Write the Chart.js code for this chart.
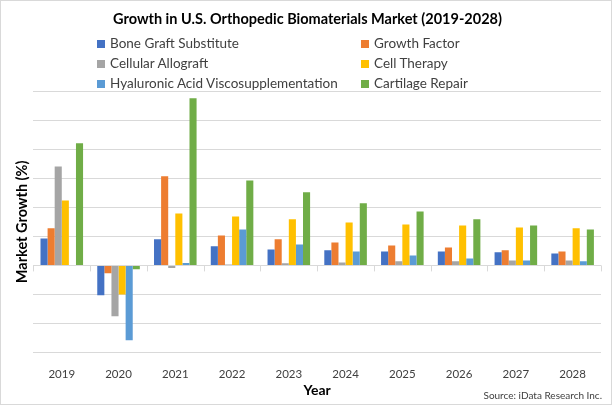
<!DOCTYPE html>
<html>
<head>
<meta charset="utf-8">
<script src="https://cdn.jsdelivr.net/npm/chart.js@4.4.0/dist/chart.umd.min.js"></script>
<style>
  body { margin: 0; background: #fff; }
  #wrap { position: relative; width: 612px; height: 405px; font-family: Lato, "Liberation Sans", sans-serif; }
  #frame { position: absolute; left: 0; top: 0; width: 612px; height: 405px; box-sizing: border-box; border: 1px solid #d9d9d9; pointer-events: none; }
  #legend { position: absolute; left: 97px; top: 33px; width: 440px; }
  .item { position: absolute; font-size: 13.5px; color: #404040; white-space: nowrap; line-height: 20px; }
  .item span.box { display: inline-block; width: 8px; height: 8px; margin-right: 5px; vertical-align: 0px; }
  #source { position: absolute; right: 10px; top: 389px; font-size: 10px; color: #404040; }
</style>
</head>
<body>
<div id="wrap">
  <canvas id="myChart"></canvas>
  <div id="legend"></div>
  <div id="source">Source: iData Research Inc.</div>
  <div id="frame"></div>
</div>
<script>
const years = ['2019', '2020', '2021', '2022', '2023', '2024', '2025', '2026', '2027', '2028'];

const boneGraft = [9.3, -10.3, 9.0, 6.6, 5.5, 5.2, 4.8, 4.8, 4.5, 4.1];
const growthFactor = [12.8, -2.7, 30.7, 10.3, 9.0, 7.9, 6.9, 6.2, 5.2, 4.8];
const cellularAllograft = [34.1, -17.5, -0.9, 0.3, 0.7, 1.0, 1.4, 1.4, 1.7, 1.7];
const cellTherapy = [22.4, -10.0, 17.9, 16.9, 15.9, 14.8, 14.1, 13.8, 13.1, 12.8];
const hyaluronicAcid = [null, -25.8, 0.8, 12.4, 7.2, 4.8, 3.4, 2.4, 1.7, 1.4];
const cartilageRepair = [42.1, -1.3, 57.6, 29.3, 25.2, 21.4, 18.6, 15.9, 13.8, 12.4];

const seriesNames = ['Bone Graft Substitute', 'Growth Factor', 'Cellular Allograft', 'Cell Therapy', 'Hyaluronic Acid Viscosupplementation', 'Cartilage Repair'];
const seriesColors = ['#4472C4', '#ED7D31', '#A5A5A5', '#FFC000', '#5B9BD5', '#70AD47'];
const seriesValues = [boneGraft, growthFactor, cellularAllograft, cellTherapy, hyaluronicAcid, cartilageRepair];

const data = {
    labels: years,
    datasets: seriesNames.map((name, i) => ({
        label: name,
        data: seriesValues[i],
        backgroundColor: seriesColors[i],
        categoryPercentage: 0.75,
        barPercentage: 1.0,
    }))
};

// little tick marks on the zero line between the years
const zeroTicks = {
    id: 'zeroTicks',
    beforeDatasetsDraw(chart) {
        const x = chart.scales.x, y = chart.scales.y;
        const y0 = y.getPixelForValue(0);
        const step = (x.right - x.left) / years.length;
        const ctx = chart.ctx;
        ctx.save();
        ctx.strokeStyle = '#d9d9d9';
        ctx.lineWidth = 1;
        ctx.beginPath();
        for (let i = 0; i <= years.length; i++) {
            const px = Math.round(x.left + i * step) + 0.5;
            ctx.moveTo(px, y0);
            ctx.lineTo(px, y0 + 6);
        }
        ctx.stroke();
        ctx.restore();
    }
};

const config = {
    type: 'bar',
    data: data,
    plugins: [zeroTicks],
    options: {
        responsive: true,
        maintainAspectRatio: false,
        animation: false,
        layout: { padding: { left: 14, right: 11, top: 0, bottom: 6 } },
        plugins: {
            legend: { display: false },
            tooltip: { enabled: false },
            title: {
                display: true,
                text: 'Growth in U.S. Orthopedic Biomaterials Market (2019-2028)',
                color: '#000',
                font: { family: 'Lato', size: 14.5, weight: 'bold' },
                padding: { top: 11, bottom: 63 }
            }
        },
        scales: {
            x: {
                grid: { display: false, drawTicks: false },
                border: { display: false },
                ticks: { color: '#404040', font: { family: 'Lato', size: 11.5 }, padding: 15 },
                title: { display: true, text: 'Year', color: '#000', font: { family: 'Lato', size: 14, weight: 'bold' }, padding: { top: -14, bottom: 0 } }
            },
            y: {
                min: -30,
                max: 60,
                ticks: { display: false, stepSize: 10 },
                grid: { color: '#d9d9d9', drawTicks: false },
                border: { display: false },
                title: { display: true, text: 'Market Growth (%)', color: '#000', font: { family: 'Lato', size: 14.5, weight: 'bold' }, padding: { top: 0, bottom: 2 } }
            }
        }
    }
};

const myChart = new Chart(document.getElementById('myChart'), config);

// two-column legend like the original
const legendBox = document.getElementById('legend');
myChart.data.datasets.forEach((ds, i) => {
    const el = document.createElement('div');
    el.className = 'item';
    el.style.left = (i % 2 === 0 ? 0 : 264) + 'px';
    el.style.top = (Math.floor(i / 2) * 20.2) + 'px';
    el.innerHTML = '<span class="box" style="background:' + ds.backgroundColor + '"></span>' + ds.label;
    legendBox.appendChild(el);
});
</script>
</body>
</html>
